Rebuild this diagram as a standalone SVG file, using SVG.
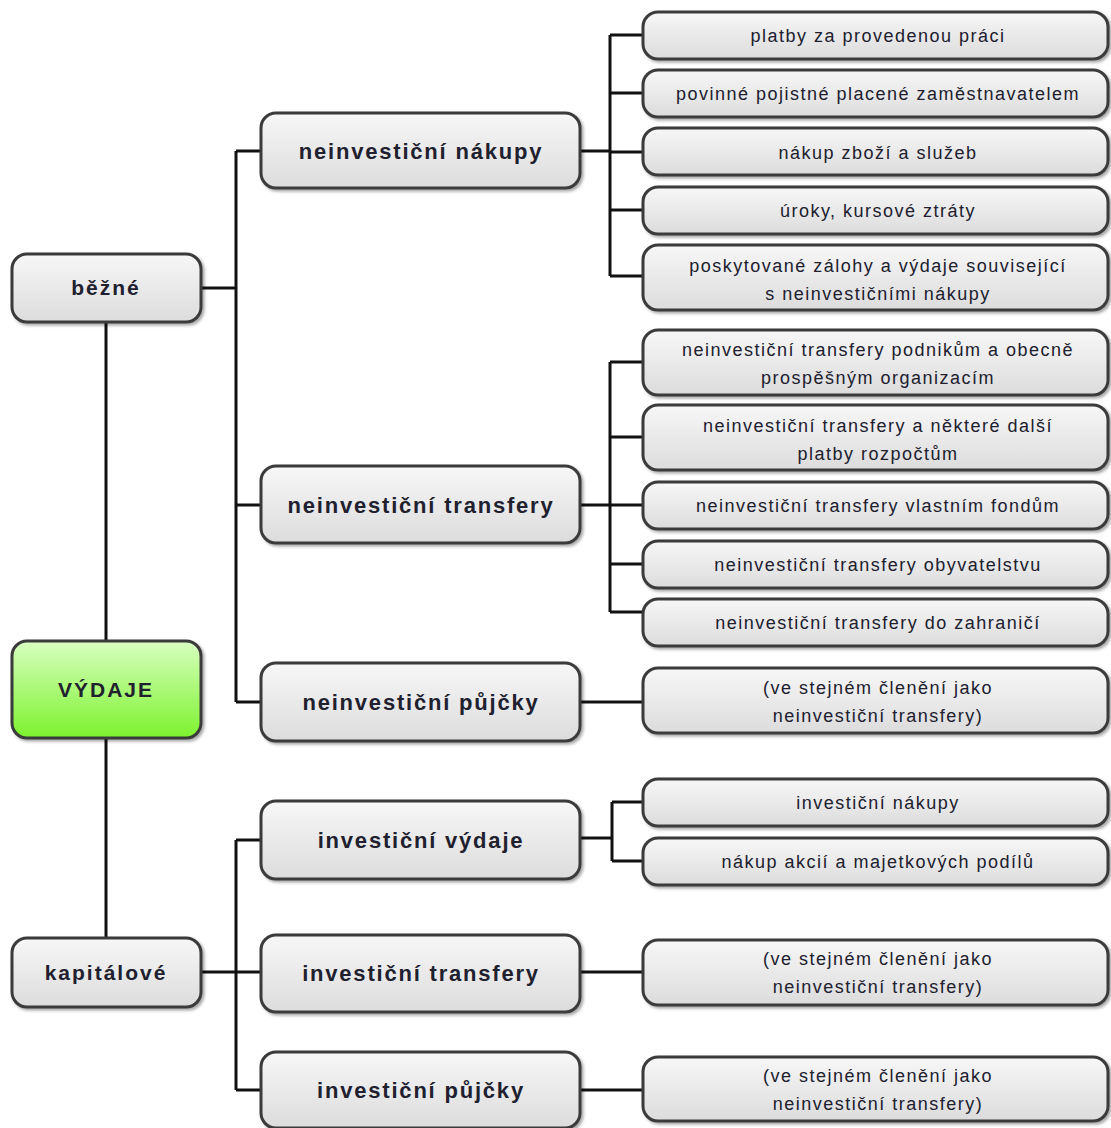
<svg xmlns="http://www.w3.org/2000/svg" width="1111" height="1128" viewBox="0 0 1111 1128">
<defs>
<linearGradient id="g" x1="0" y1="0" x2="0" y2="1">
<stop offset="0" stop-color="#f7f7f7"/>
<stop offset="1" stop-color="#dcdcdc"/>
</linearGradient>
<linearGradient id="gg" x1="0" y1="0" x2="0" y2="1">
<stop offset="0" stop-color="#d8ffc0"/>
<stop offset="1" stop-color="#7df22e"/>
</linearGradient>
<filter id="sh" x="-5%" y="-10%" width="115%" height="130%">
<feDropShadow dx="2" dy="2" stdDeviation="1.5" flood-color="#000" flood-opacity="0.35"/>
</filter>
</defs>
<style>
.box{fill:url(#g);stroke:#3a3a3a;stroke-width:3;filter:url(#sh)}
.green{fill:url(#gg)}
.c{fill:none;stroke:#111;stroke-width:3}
text{font-family:"Liberation Sans",Arial,sans-serif;fill:#20202e;text-anchor:middle}
.l{font-weight:bold;font-size:21px;letter-spacing:2px}
.m{font-weight:bold;font-size:22px;letter-spacing:1.8px}
.r{font-size:18px;letter-spacing:1.5px}
</style>
<rect width="1111" height="1128" fill="#fff"/>
<g id="connectors">
<path class="c" d="M106 322V641M106 738V938"/>
<path class="c" d="M201 288H236M236 151V702M236 151H261M236 505H261M236 702H261"/>
<path class="c" d="M201 972H261M236 840V1090M236 840H261M236 1090H261"/>
<path class="c" d="M580 151H610M610 35V276M610 35H643M610 93H643M610 152H643M610 210H643M610 276H643"/>
<path class="c" d="M580 505H610M610 362V612M610 362H643M610 437H643M610 505H643M610 564H643M610 612H643"/>
<path class="c" d="M580 702H643"/>
<path class="c" d="M580 838H612M612 802V861M612 802H643M612 861H643"/>
<path class="c" d="M580 972H643M580 1090H643"/>
</g>
<g id="bezne"><rect class="box" x="12" y="254" width="189" height="68" rx="15"/><text class="l" x="106" y="295">běžné</text></g>
<g id="vydaje"><rect class="box green" x="12" y="641" width="189" height="97" rx="15"/><text class="l" x="106" y="697">VÝDAJE</text></g>
<g id="kapitalove"><rect class="box" x="12" y="938" width="189" height="69" rx="15"/><text class="l" x="106" y="980">kapitálové</text></g>

<g id="neinv-nakupy"><rect class="box" x="261" y="113" width="319" height="75" rx="15"/><text class="m" x="421" y="159">neinvestiční nákupy</text></g>
<g id="neinv-transfery"><rect class="box" x="261" y="466" width="319" height="77" rx="15"/><text class="m" x="421" y="513">neinvestiční transfery</text></g>
<g id="neinv-pujcky"><rect class="box" x="261" y="663" width="319" height="78" rx="15"/><text class="m" x="421" y="710">neinvestiční půjčky</text></g>
<g id="inv-vydaje"><rect class="box" x="261" y="801" width="319" height="78" rx="15"/><text class="m" x="421" y="848">investiční výdaje</text></g>
<g id="inv-transfery"><rect class="box" x="261" y="935" width="319" height="77" rx="15"/><text class="m" x="421" y="981">investiční transfery</text></g>
<g id="inv-pujcky"><rect class="box" x="261" y="1052" width="319" height="76" rx="15"/><text class="m" x="421" y="1098">investiční půjčky</text></g>

<g id="r1"><rect class="box" x="643" y="12" width="465" height="47" rx="15"/><text class="r" x="878" y="42">platby za provedenou práci</text></g>
<g id="r2"><rect class="box" x="643" y="70" width="465" height="47" rx="15"/><text class="r" x="878" y="100">povinné pojistné placené zaměstnavatelem</text></g>
<g id="r3"><rect class="box" x="643" y="128" width="465" height="47" rx="15"/><text class="r" x="878" y="159">nákup zboží a služeb</text></g>
<g id="r4"><rect class="box" x="643" y="187" width="465" height="47" rx="15"/><text class="r" x="878" y="217">úroky, kursové ztráty</text></g>
<g id="r5"><rect class="box" x="643" y="245" width="465" height="65" rx="15"/><text class="r" x="878" y="272">poskytované zálohy a výdaje související</text><text class="r" x="878" y="300">s neinvestičními nákupy</text></g>
<g id="r6"><rect class="box" x="643" y="330" width="465" height="65" rx="15"/><text class="r" x="878" y="356">neinvestiční transfery podnikům a obecně</text><text class="r" x="878" y="384">prospěšným organizacím</text></g>
<g id="r7"><rect class="box" x="643" y="405" width="465" height="65" rx="15"/><text class="r" x="878" y="432">neinvestiční transfery a některé další</text><text class="r" x="878" y="460">platby rozpočtům</text></g>
<g id="r8"><rect class="box" x="643" y="482" width="465" height="47" rx="15"/><text class="r" x="878" y="512">neinvestiční transfery vlastním fondům</text></g>
<g id="r9"><rect class="box" x="643" y="541" width="465" height="47" rx="15"/><text class="r" x="878" y="571">neinvestiční transfery obyvatelstvu</text></g>
<g id="r10"><rect class="box" x="643" y="599" width="465" height="47" rx="15"/><text class="r" x="878" y="629">neinvestiční transfery do zahraničí</text></g>
<g id="r11"><rect class="box" x="643" y="668" width="465" height="65" rx="15"/><text class="r" x="878" y="694">(ve stejném členění jako</text><text class="r" x="878" y="722">neinvestiční transfery)</text></g>
<g id="r12"><rect class="box" x="643" y="779" width="465" height="47" rx="15"/><text class="r" x="878" y="809">investiční nákupy</text></g>
<g id="r13"><rect class="box" x="643" y="838" width="465" height="47" rx="15"/><text class="r" x="878" y="868">nákup akcií a majetkových podílů</text></g>
<g id="r14"><rect class="box" x="643" y="940" width="465" height="65" rx="15"/><text class="r" x="878" y="965">(ve stejném členění jako</text><text class="r" x="878" y="993">neinvestiční transfery)</text></g>
<g id="r15"><rect class="box" x="643" y="1057" width="465" height="64" rx="15"/><text class="r" x="878" y="1082">(ve stejném členění jako</text><text class="r" x="878" y="1110">neinvestiční transfery)</text></g>
</svg>
